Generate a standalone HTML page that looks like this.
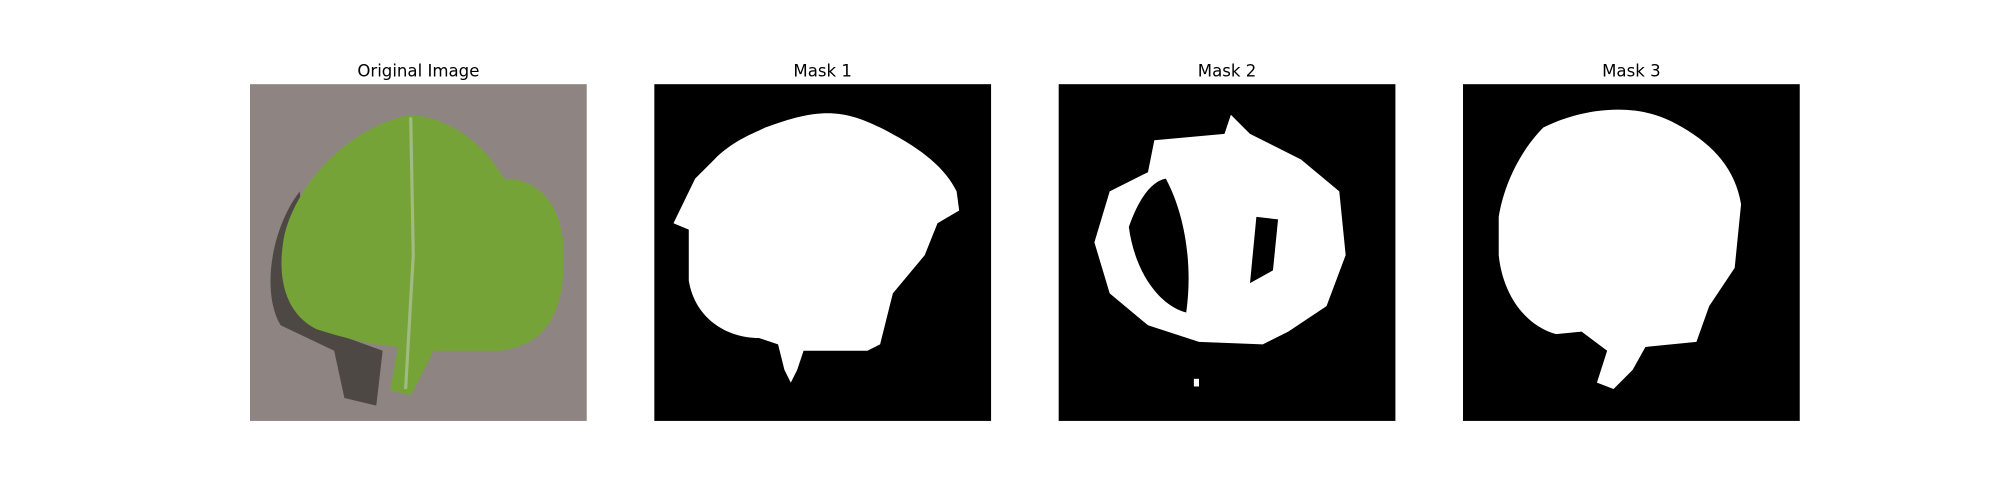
<!DOCTYPE html>
<html><head><meta charset="utf-8"><style>
html,body{margin:0;padding:0;background:#fff;}
svg{display:block;}
text{font-family:"DejaVu Sans","Liberation Sans",sans-serif;font-size:13px;fill:#000;}
</style></head><body>
<svg width="2000" height="500" viewBox="0 0 1568 392">
<g>
<text x="328" y="60" text-anchor="middle">Original Image</text>
<rect x="196" y="66" width="264" height="264" fill="#8e8582"/>
<path d="M235,150 C212,180 205,230 220,255 L262,275 L270,312 L295,318 L300,275 L245,255 Z" fill="#3e3836" opacity="0.8"/>
<path d="M322,90 C350,92 378,110 395,140 C425,140 445,165 442,210 C440,250 425,272 390,275 L340,275 L330,295 L322,310 L306,306 L312,272 C290,270 270,265 248,258 C222,245 218,215 222,190 C228,150 270,100 322,90 Z" fill="#76a337"/>
<path d="M322,92 L324,200 L318,305" stroke="#9fbb82" stroke-width="2.5" fill="none"/>
</g>
<g>
<text x="645" y="60" text-anchor="middle">Mask 1</text>
<rect x="513" y="66" width="264" height="264" fill="#000"/>
<path d="M600,100 C640,85 660,85 690,100 C720,115 740,130 750,150 L752,165 L735,175 L725,200 L700,230 L690,270 L680,275 L630,275 L625,290 L620,300 L615,290 L610,270 L595,265 C570,265 545,250 540,220 L540,180 L528,175 L545,140 L560,125 C575,110 590,105 600,100 Z" fill="#fff"/>
</g>
<g>
<text x="962" y="60" text-anchor="middle">Mask 2</text>
<rect x="830" y="66" width="264" height="264" fill="#000"/>
<path fill-rule="evenodd" d="M905,110 L960,105 L965,90 L980,105 L1020,125 L1050,150 L1055,200 L1040,240 L1010,260 L990,270 L940,268 L900,255 L870,230 L858,190 L870,150 L900,135 Z M885,178 C893,155 903,142 914,140 C930,170 935,210 930,245 C910,240 890,215 885,178 Z M985,170 L1002,172 L998,212 L980,222 Z" fill="#fff"/>
<rect x="936" y="297" width="4" height="6" fill="#fff"/>
</g>
<g>
<text x="1279" y="60" text-anchor="middle">Mask 3</text>
<rect x="1147" y="66" width="264" height="264" fill="#000"/>
<path d="M1210,100 C1240,85 1280,80 1310,95 C1340,110 1360,130 1365,160 L1360,210 L1340,240 L1330,268 L1290,272 L1280,290 L1265,305 L1252,300 L1260,275 L1240,260 L1220,262 C1195,255 1178,230 1175,200 L1175,170 C1180,140 1195,115 1210,100 Z" fill="#fff"/>
</g>
</svg>
</body></html>
